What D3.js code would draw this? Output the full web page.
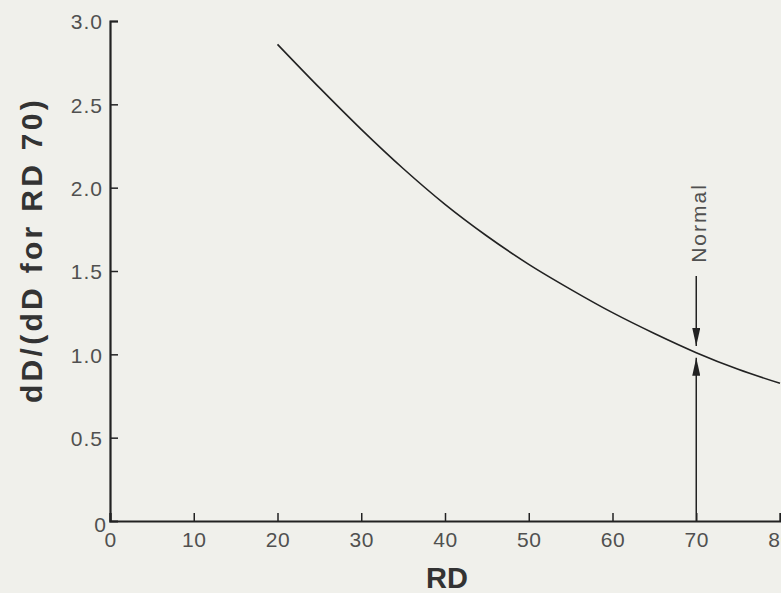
<!DOCTYPE html>
<html>
<head>
<meta charset="utf-8">
<script src="https://cdn.jsdelivr.net/npm/d3@7"></script>
<style>
  html, body { margin: 0; padding: 0; background: #f0f0eb; }
  svg { display: block; }
</style>
</head>
<body>
<svg id="chart" width="781" height="593"></svg>
<script>
// ---- data ----
const rdValues = [20, 25, 30, 35, 40, 45, 50, 55, 60, 65, 70, 75, 80];
const ratioValues = [2.86, 2.60, 2.35, 2.115, 1.90, 1.71, 1.54, 1.39, 1.25, 1.125, 1.01, 0.91, 0.826];
const xTicks = [0, 10, 20, 30, 40, 50, 60, 70, 80];
const xTickLabels = ["0", "10", "20", "30", "40", "50", "60", "70", "80"];
const yTicks = [0, 0.5, 1.0, 1.5, 2.0, 2.5, 3.0];
const yTickLabels = ["0", "0.5", "1.0", "1.5", "2.0", "2.5", "3.0"];
const normalRD = 70;
const normalDownArrow = [1.47, 1.05];  // from, to
const normalUpArrow = [0, 0.98];
const xTitle = "RD";
const yTitle = "dD/(dD for RD 70)";
const normalLabel = "Normal";

// ---- layout ----
const svg = d3.select("#chart");
const x = d3.scaleLinear().domain([0, 80]).range([110, 780]);
const y = d3.scaleLinear().domain([0, 3]).range([521, 21]);
const ink = "#222";
const labelInk = "#505050";

const defs = svg.append("defs");
defs.append("marker")
  .attr("id", "arrow")
  .attr("viewBox", "0 0 18 8")
  .attr("refX", 18).attr("refY", 4)
  .attr("markerWidth", 18).attr("markerHeight", 8)
  .attr("markerUnits", "userSpaceOnUse")
  .attr("orient", "auto")
  .append("path").attr("d", "M0,0 L18,4 L0,8 Z").attr("fill", ink);

// x axis
const xAxis = d3.axisBottom(x).tickValues(xTicks).tickSize(-8).tickPadding(11)
  .tickFormat((d, i) => xTickLabels[i]);
const gx = svg.append("g").attr("transform", `translate(0,${y(0)})`).call(xAxis);
gx.select(".domain").attr("stroke", ink).attr("stroke-width", 2.2);
gx.selectAll(".tick line").attr("stroke", ink).attr("stroke-width", 1.5);
gx.selectAll(".tick text")
  .attr("font-family", "Liberation Sans, Arial, sans-serif")
  .attr("font-size", 21).attr("fill", labelInk).attr("letter-spacing", 0.5);

// y axis
const yAxis = d3.axisLeft(y).tickValues(yTicks).tickSize(-8).tickPadding(7)
  .tickFormat((d, i) => yTickLabels[i]);
const gy = svg.append("g").attr("transform", `translate(${x(0)},0)`).call(yAxis);
gy.select(".domain").attr("stroke", ink).attr("stroke-width", 2.2);
gy.selectAll(".tick line").attr("stroke", ink).attr("stroke-width", 1.5);
gy.selectAll(".tick").filter(d => d === 0).select("line").remove();
gy.selectAll(".tick text")
  .attr("font-family", "Liberation Sans, Arial, sans-serif")
  .attr("font-size", 21).attr("fill", labelInk).attr("letter-spacing", 1)
  .attr("dy", "0.38em");
gy.selectAll(".tick").filter(d => d === 0).select("text").attr("dx", 4).attr("dy", "0.5em");

// curve
const line = d3.line().x((d, i) => x(rdValues[i])).y(d => y(d)).curve(d3.curveMonotoneX);
svg.append("path").datum(ratioValues)
  .attr("d", line).attr("fill", "none").attr("stroke", ink).attr("stroke-width", 1.6);

// Normal arrows
svg.append("line")
  .attr("x1", x(normalRD)).attr("x2", x(normalRD))
  .attr("y1", y(normalDownArrow[0])).attr("y2", y(normalDownArrow[1]))
  .attr("stroke", ink).attr("stroke-width", 1.5).attr("marker-end", "url(#arrow)");
svg.append("line")
  .attr("x1", x(normalRD)).attr("x2", x(normalRD))
  .attr("y1", y(normalUpArrow[0])).attr("y2", y(normalUpArrow[1]))
  .attr("stroke", ink).attr("stroke-width", 1.5).attr("marker-end", "url(#arrow)");
svg.append("text")
  .attr("transform", `translate(${x(normalRD) + 10},223) rotate(-90)`)
  .attr("text-anchor", "middle")
  .attr("font-family", "Liberation Sans, Arial, sans-serif")
  .attr("font-size", 21).attr("letter-spacing", 2).attr("fill", labelInk)
  .text(normalLabel);

// titles
svg.append("text")
  .attr("x", 447).attr("y", 588)
  .attr("text-anchor", "middle")
  .attr("font-family", "Liberation Sans, Arial, sans-serif")
  .attr("font-weight", "bold").attr("font-size", 29).attr("fill", "#333")
  .text(xTitle);
svg.append("text")
  .attr("transform", "translate(42,250) rotate(-90)")
  .attr("text-anchor", "middle")
  .attr("font-family", "Liberation Sans, Arial, sans-serif")
  .attr("font-weight", "bold").attr("font-size", 30).attr("letter-spacing", 3.3).attr("fill", "#333")
  .text(yTitle);
</script>
</body>
</html>
